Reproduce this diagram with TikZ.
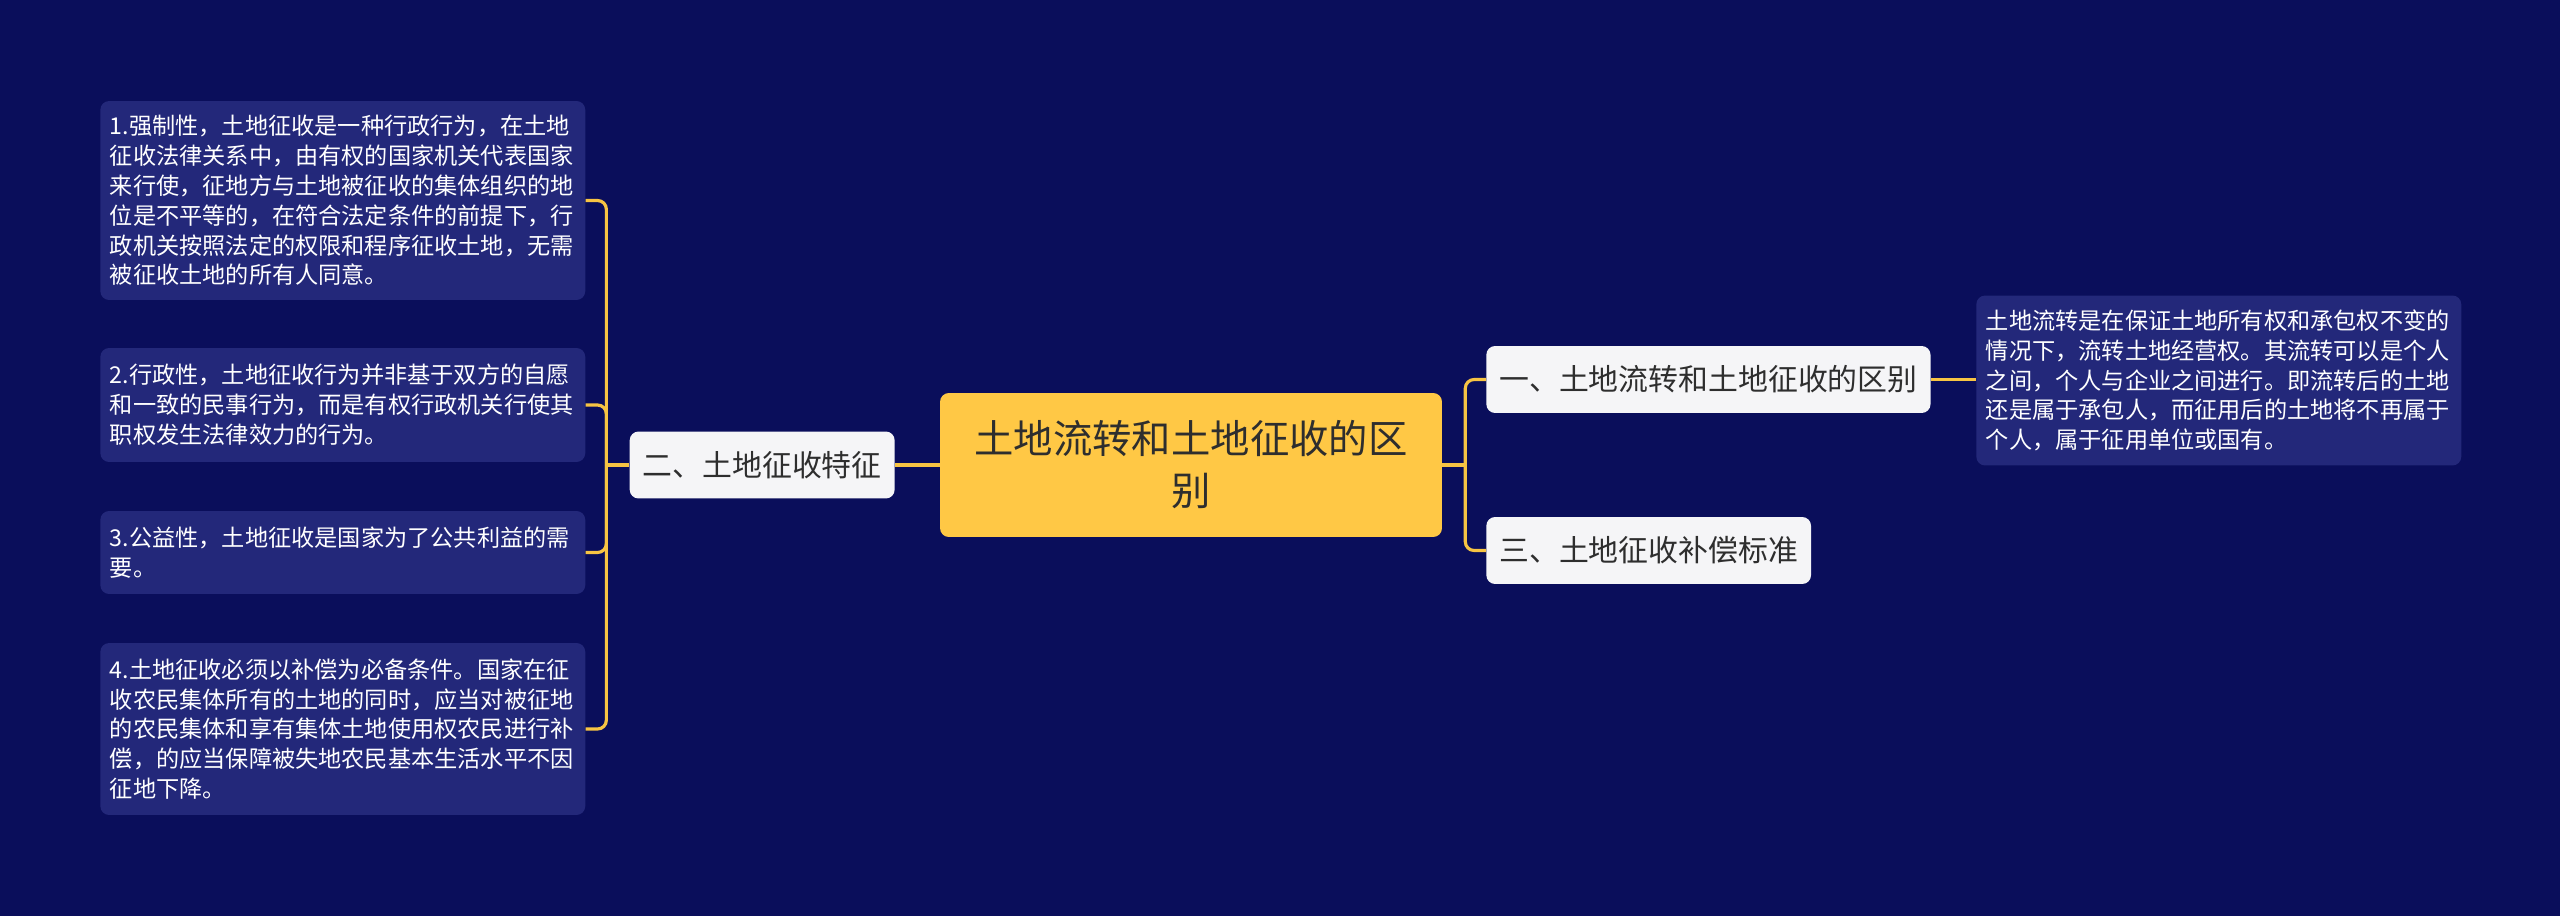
\documentclass[tikz,border=0pt]{standalone}
\usepackage{fontspec}
\setmainfont{Noto Sans CJK SC}
\usetikzlibrary{positioning,calc}

\definecolor{bgnavy}{HTML}{0A0E5B}
\definecolor{notefill}{HTML}{23287A}
\definecolor{rootyellow}{HTML}{FFC845}
\definecolor{topicwhite}{HTML}{F5F5F7}
\definecolor{inkdark}{HTML}{2E2E2E}
\definecolor{linkyellow}{HTML}{F7C443}

\begin{document}
\begin{tikzpicture}[
  x=0.02cm, y=-0.02cm,
  root/.style={rounded corners=5pt, fill=rootyellow, text=inkdark, minimum width=10.04cm, minimum height=2.88cm, align=center, font=\fontsize{22.4pt}{29.6pt}\selectfont},
  topic/.style={rounded corners=5pt, fill=topicwhite, text=inkdark, minimum height=1.34cm, inner xsep=0.26cm, font=\fontsize{17pt}{20pt}\selectfont},
  note/.style={rounded corners=5pt, fill=notefill, text=white, align=left, text width=9.32cm, inner xsep=0.19cm, font=\fontsize{13.2pt}{17pt}\selectfont},
  link/.style={draw=linkyellow, line width=1.8pt, rounded corners=5pt}
]

% ---------- background ----------
\fill[bgnavy] (0,0) rectangle (2560,916);
\useasboundingbox (0,0) rectangle (2560,916);

% ---------- centre ----------
\node[root] (root) at (1191,465) {土地流转和土地征收的区\\别};

% ---------- left branch ----------
\node[topic, anchor=east] (zhengshou) at (895,465) {二、土地征收特征};

\node[note, anchor=west, minimum height=3.98cm] (qiangzhi) at (100,200.5)
  {1.强制性，土地征收是一种行政行为，在土地\\征收法律关系中，由有权的国家机关代表国家\\来行使，征地方与土地被征收的集体组织的地\\位是不平等的，在符合法定条件的前提下，行\\政机关按照法定的权限和程序征收土地，无需\\被征收土地的所有人同意。};
\node[note, anchor=west, minimum height=2.28cm] (xingzheng) at (100,405)
  {2.行政性，土地征收行为并非基于双方的自愿\\和一致的民事行为，而是有权行政机关行使其\\职权发生法律效力的行为。};
\node[note, anchor=west, minimum height=1.66cm] (gongyi) at (100,552.5)
  {3.公益性，土地征收是国家为了公共利益的需\\要。};
\node[note, anchor=west, minimum height=3.44cm] (buchang) at (100,729)
  {4.土地征收必须以补偿为必备条件。国家在征\\收农民集体所有的土地的同时，应当对被征地\\的农民集体和享有集体土地使用权农民进行补\\偿，的应当保障被失地农民基本生活水平不因\\征地下降。};

% ---------- right branch ----------
\node[topic, anchor=west] (qubie) at (1486,379.5) {一、土地流转和土地征收的区别};
\node[topic, anchor=west] (biaozhun) at (1486,550.5) {三、土地征收补偿标准};

\node[note, anchor=west, minimum height=3.4cm] (liuzhuan) at (1976,380.5)
  {土地流转是在保证土地所有权和承包权不变的\\情况下，流转土地经营权。其流转可以是个人\\之间，个人与企业之间进行。即流转后的土地\\还是属于承包人，而征用后的土地将不再属于\\个人，属于征用单位或国有。};

% ---------- connectors ----------
\coordinate (lbus) at ($(zhengshou.west)+(-23,0)$);
\coordinate (rbus) at ($(root.east)+(23,0)$);

\draw[link] (root.west) -- (zhengshou.east);
\draw[link] (zhengshou.west) -- (lbus);
\foreach \leaf in {qiangzhi,xingzheng,gongyi,buchang}
  \draw[link] (lbus) |- (\leaf.east);

\draw[link] (root.east) -- (rbus);
\draw[link] (rbus) |- (qubie.west);
\draw[link] (rbus) |- (biaozhun.west);
\draw[link] (qubie.east) -- (qubie.east -| liuzhuan.west);

\end{tikzpicture}
\end{document}
